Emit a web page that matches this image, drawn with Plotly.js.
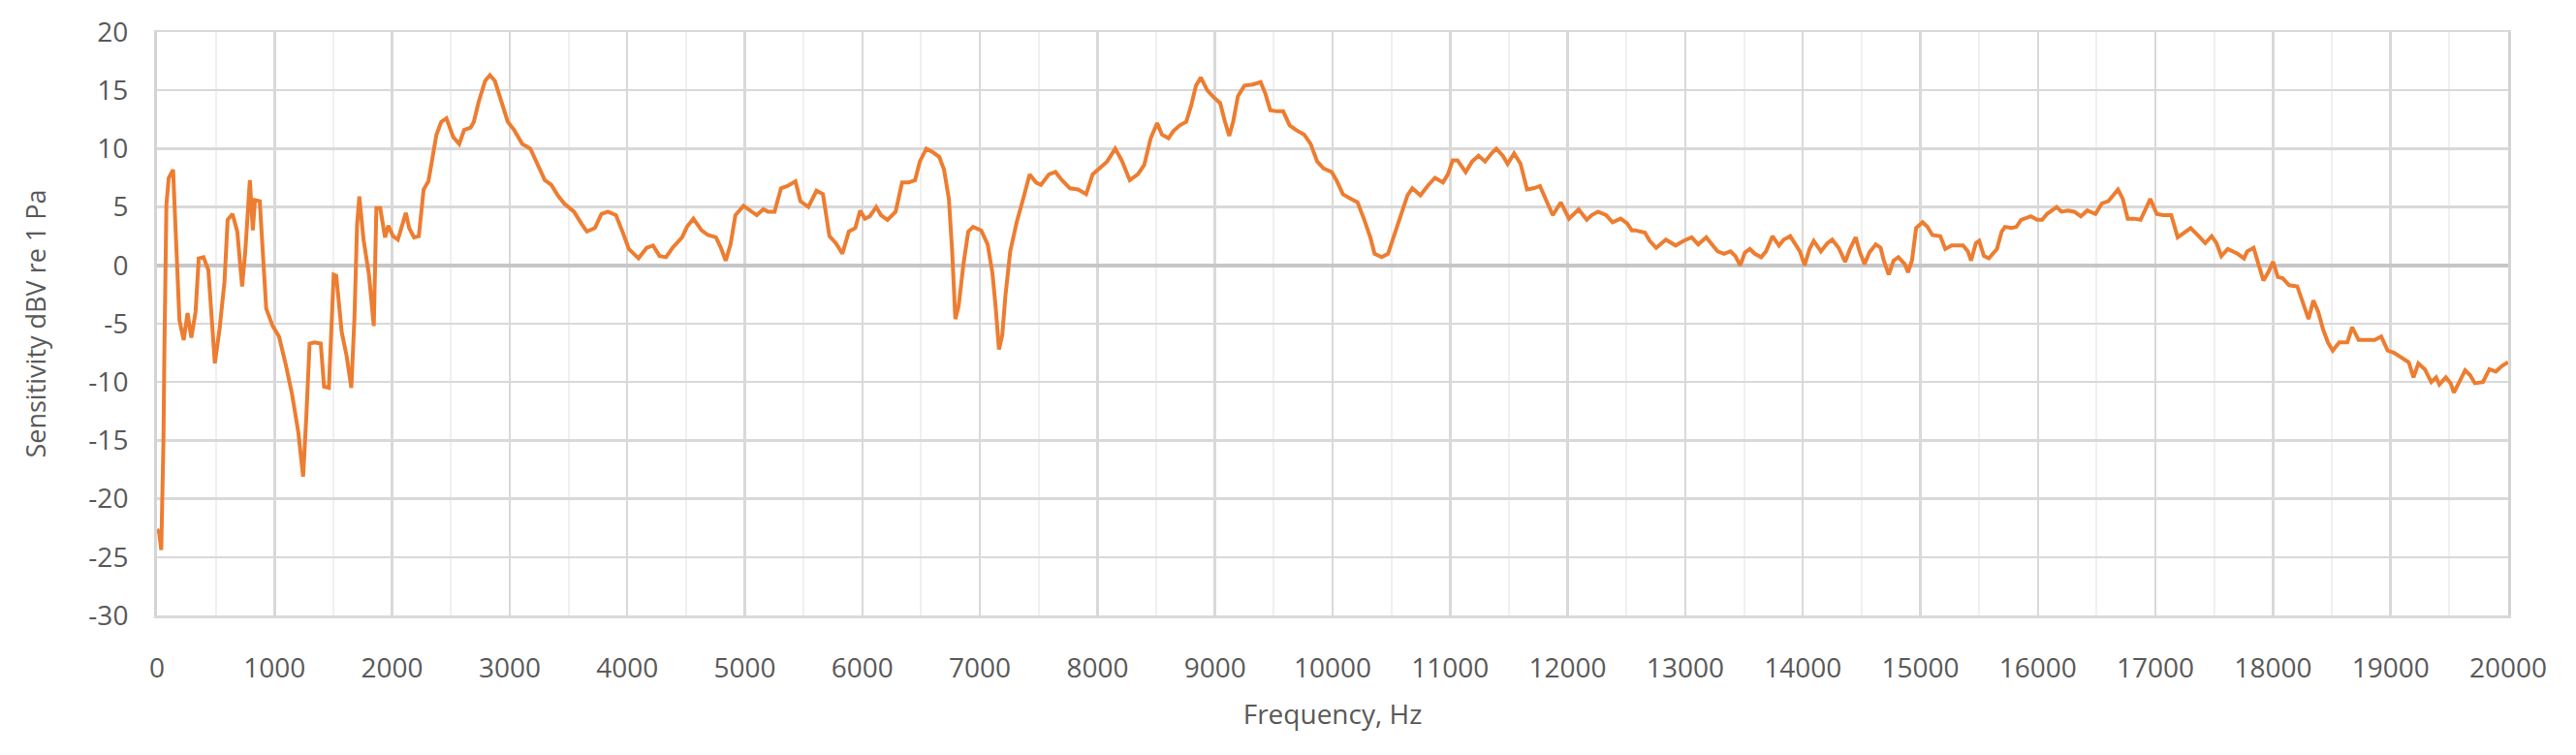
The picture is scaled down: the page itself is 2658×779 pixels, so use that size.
<!DOCTYPE html>
<html>
<head>
<meta charset="utf-8">
<script src="https://cdn.plot.ly/plotly-3.0.1.min.js"></script>
<style>
  html, body { margin: 0; padding: 0; background: #fff; }
  #chart { width: 2658px; height: 779px; }
</style>
</head>
<body>
<div id="chart"></div>
<script>
// frequency (Hz) and sensitivity (dBV re 1 Pa)
var freqHz = [
  0, 20, 36, 48, 55, 62, 68, 80, 100, 137, 150, 164, 191, 227, 260, 292, 328, 355, 396, 437,
  492, 533, 574, 601, 642, 683, 724, 751, 790, 815, 833, 874, 929, 984, 1038, 1093, 1148, 1202, 1243, 1270,
  1298, 1339, 1393, 1421, 1462, 1503, 1525, 1571, 1612, 1653, 1680, 1702, 1721, 1757, 1803, 1844, 1866, 1899, 1940, 1967,
  2008, 2049, 2090, 2117, 2145, 2186, 2227, 2268, 2309, 2350, 2377, 2418, 2462, 2520, 2571, 2613, 2668, 2695, 2736, 2791,
  2832, 2874, 2929, 2984, 3038, 3107, 3176, 3231, 3299, 3354, 3409, 3464, 3547, 3615, 3657, 3725, 3780, 3835, 3904, 3959,
  4014, 4096, 4165, 4220, 4275, 4330, 4385, 4467, 4508, 4563, 4632, 4687, 4755, 4797, 4838, 4879, 4920, 4989, 5047, 5102,
  5157, 5198, 5253, 5308, 5363, 5431, 5473, 5541, 5610, 5665, 5720, 5775, 5830, 5885, 5940, 5981, 6022, 6063, 6118, 6159,
  6214, 6283, 6338, 6393, 6448, 6489, 6544, 6599, 6654, 6695, 6736, 6764, 6791, 6819, 6860, 6901, 6942, 7011, 7066, 7107,
  7135, 7162, 7190, 7217, 7258, 7313, 7368, 7423, 7478, 7519, 7588, 7643, 7698, 7766, 7835, 7904, 7959, 8014, 8082, 8151,
  8206, 8275, 8343, 8398, 8453, 8508, 8549, 8604, 8645, 8700, 8755, 8797, 8838, 8879, 8934, 8989, 9044, 9085, 9121, 9154,
  9195, 9250, 9319, 9388, 9429, 9470, 9525, 9580, 9635, 9690, 9759, 9814, 9869, 9924, 9993, 10033, 10088, 10157, 10212, 10266,
  10321, 10357, 10418, 10472, 10527, 10582, 10637, 10678, 10747, 10816, 10871, 10939, 10981, 11022, 11063, 11132, 11187, 11242, 11297, 11352,
  11393, 11448, 11489, 11544, 11599, 11654, 11709, 11764, 11819, 11873, 11942, 12011, 12093, 12162, 12203, 12258, 12327, 12382, 12450, 12505,
  12546, 12574, 12657, 12698, 12753, 12835, 12918, 12986, 13055, 13110, 13179, 13220, 13275, 13330, 13385, 13426, 13467, 13508, 13550, 13591,
  13646, 13687, 13742, 13797, 13838, 13893, 13934, 13975, 14016, 14057, 14093, 14154, 14209, 14250, 14305, 14360, 14401, 14450, 14483, 14525,
  14566, 14621, 14662, 14689, 14731, 14772, 14813, 14868, 14895, 14928, 14964, 15019, 15060, 15102, 15170, 15212, 15266, 15363, 15404, 15431,
  15472, 15500, 15541, 15582, 15651, 15692, 15720, 15775, 15816, 15857, 15940, 15994, 16036, 16077, 16159, 16200, 16255, 16310, 16365, 16420,
  16489, 16544, 16599, 16681, 16722, 16764, 16819, 16873, 16915, 16956, 17011, 17066, 17134, 17189, 17244, 17299, 17368, 17423, 17478, 17519,
  17560, 17615, 17698, 17753, 17780, 17835, 17876, 17918, 17959, 18000, 18041, 18082, 18137, 18206, 18247, 18302, 18343, 18385, 18426, 18467,
  18508, 18563, 18632, 18673, 18728, 18797, 18865, 18920, 18975, 19030, 19099, 19154, 19195, 19236, 19291, 19346, 19387, 19415, 19470, 19511,
  19538, 19580, 19634, 19676, 19717, 19786, 19840, 19895, 19950, 20000
];

var sensDb = [
  -22.6, -23.0, -24.4, -20, -15, -8, 0, 5.2, 7.5, 8.2, 5, 0.9, -4.7, -6.4, -4.1, -6.2, -4.0, 0.6, 0.7, -0.4,
  -8.4, -5.4, -1.4, 3.9, 4.4, 2.9, -1.8, 1.2, 7.3, 3.0, 5.6, 5.5, -3.7, -5.2, -6.1, -8.4, -11, -14.3, -18.1, -13,
  -6.7, -6.6, -6.7, -10.4, -10.5, -0.8, -0.9, -5.7, -7.7, -10.5, -4.4, 3.5, 5.9, 2.2, -0.8, -5.2, 4.9, 4.9, 2.4, 3.4,
  2.5, 2.2, 3.5, 4.5, 3.2, 2.4, 2.5, 6.5, 7.2, 9.5, 11.2, 12.3, 12.6, 11.0, 10.4, 11.6, 11.8, 12.3, 14.0, 15.8,
  16.3, 15.8, 14.1, 12.3, 11.6, 10.4, 10.0, 8.7, 7.3, 6.9, 6.0, 5.3, 4.6, 3.5, 2.9, 3.2, 4.4, 4.6, 4.3, 2.9,
  1.4, 0.6, 1.5, 1.7, 0.8, 0.7, 1.5, 2.4, 3.3, 4.0, 3.0, 2.6, 2.4, 1.5, 0.4, 1.8, 4.3, 5.1, 4.7, 4.3,
  4.8, 4.6, 4.6, 6.6, 6.8, 7.2, 5.5, 5.0, 6.4, 6.1, 2.5, 1.9, 1.0, 2.9, 3.2, 4.7, 4.0, 4.2, 5.0, 4.3,
  3.9, 4.6, 7.1, 7.1, 7.3, 8.9, 10.0, 9.7, 9.3, 8.2, 5.7, 1.2, -4.6, -3.5, 0.1, 2.9, 3.3, 3.0, 1.8, -0.7,
  -3.7, -7.2, -6.0, -2.6, 1.2, 3.7, 5.7, 7.8, 7.1, 6.9, 7.8, 8.0, 7.3, 6.6, 6.5, 6.1, 7.8, 8.3, 8.9, 10.0,
  9.0, 7.3, 7.8, 8.6, 10.9, 12.2, 11.2, 10.9, 11.5, 12.0, 12.3, 13.7, 15.4, 16.1, 15.0, 14.4, 13.9, 12.3, 11.1, 12.3,
  14.5, 15.4, 15.5, 15.7, 14.7, 13.3, 13.2, 13.2, 12.0, 11.6, 11.2, 10.4, 8.9, 8.3, 8.0, 7.3, 6.1, 5.7, 5.4, 4.0,
  2.4, 1.0, 0.7, 1.0, 2.6, 4.3, 6.0, 6.6, 6.0, 6.9, 7.5, 7.1, 7.8, 9.0, 9.0, 8.0, 8.9, 9.4, 8.9, 9.6,
  10.0, 9.4, 8.7, 9.6, 8.7, 6.5, 6.6, 6.8, 5.5, 4.3, 5.4, 4.0, 4.8, 3.9, 4.3, 4.6, 4.3, 3.7, 4.0, 3.6,
  3.0, 3.0, 2.8, 2.1, 1.5, 2.2, 1.7, 2.1, 2.4, 1.8, 2.4, 1.9, 1.2, 1.0, 1.2, 0.8, 0.0, 1.1, 1.4, 1.0,
  0.7, 1.2, 2.5, 1.7, 2.2, 2.5, 1.8, 1.2, 0.0, 1.4, 2.1, 1.2, 1.9, 2.2, 1.5, 0.3, 1.4, 2.4, 1.2, 0.1,
  1.1, 1.8, 1.5, 0.4, -0.8, 0.4, 0.7, 0.1, -0.6, 0.4, 3.2, 3.7, 3.3, 2.6, 2.5, 1.4, 1.7, 1.7, 1.2, 0.4,
  1.9, 2.1, 0.8, 0.6, 1.4, 2.9, 3.3, 3.2, 3.3, 3.9, 4.2, 3.9, 3.9, 4.4, 5.0, 4.6, 4.7, 4.6, 4.2, 4.7,
  4.4, 5.3, 5.5, 6.5, 5.7, 4.0, 4.0, 3.9, 4.8, 5.7, 4.4, 4.3, 4.3, 2.4, 2.8, 3.2, 2.5, 1.9, 2.5, 1.9,
  0.8, 1.4, 1.0, 0.6, 1.2, 1.5, 0.1, -1.3, -0.6, 0.3, -1.0, -1.1, -1.7, -1.8, -3.0, -4.6, -3.0, -4.0, -5.5, -6.6,
  -7.3, -6.6, -6.6, -5.3, -6.4, -6.4, -6.4, -6.1, -7.3, -7.5, -7.9, -8.3, -9.6, -8.4, -8.9, -10.0, -9.6, -10.2, -9.6, -10.1,
  -10.9, -10.1, -9.0, -9.4, -10.1, -10.0, -8.9, -9.1, -8.6, -8.3
];

var yTickVals = [-30, -25, -20, -15, -10, -5, 0, 5, 10, 15, 20];
var yTickText = ['-30', '-25', '-20', '-15', '-10', '-5', '0', '5', '10', '15', '20'];

var labelColor = '#595959';
var labelFont = 'Open Sans, Noto Sans, sans-serif';

var trace = {
  x: freqHz,
  y: sensDb,
  type: 'scatter',
  mode: 'lines',
  line: { color: '#ED7D31', width: 4 },
  hoverinfo: 'none'
};

var layout = {
  width: 2658,
  height: 779,
  margin: { l: 162, r: 70, t: 33, b: 144 },
  paper_bgcolor: '#ffffff',
  plot_bgcolor: '#ffffff',
  showlegend: false,
  xaxis: {
    range: [0, 20000],
    tick0: 0,
    dtick: 1000,
    tickformat: 'd',
    ticks: '',
    ticklabelstandoff: 28,
    showgrid: true,
    gridcolor: '#d9d9d9',
    gridwidth: 2.5,
    minor: { dtick: 500, showgrid: true, gridcolor: '#f0f0f0', gridwidth: 2 },
    zeroline: true,
    zerolinecolor: '#cccccc',
    zerolinewidth: 3,
    showline: true,
    linecolor: '#d9d9d9',
    linewidth: 2.5,
    mirror: true,
    tickfont: { family: labelFont, size: 28, color: labelColor },
    title: { text: 'Frequency, Hz', font: { family: labelFont, size: 28, color: labelColor }, standoff: 22 }
  },
  yaxis: {
    range: [-30, 20],
    tickvals: yTickVals,
    ticktext: yTickText,
    ticks: '',
    ticklabelstandoff: 21,
    showgrid: true,
    gridcolor: '#d9d9d9',
    gridwidth: 2.5,
    zeroline: true,
    zerolinecolor: '#c6c6c6',
    zerolinewidth: 3.5,
    showline: true,
    linecolor: '#d4d4d4',
    linewidth: 3,
    mirror: true,
    tickfont: { family: labelFont, size: 28, color: labelColor },
    title: { text: 'Sensitivity dBV re 1 Pa', font: { family: labelFont, size: 27, color: labelColor }, standoff: 36 }
  }
};

Plotly.newPlot('chart', [trace], layout, { staticPlot: true, displayModeBar: false });
</script>
</body>
</html>
